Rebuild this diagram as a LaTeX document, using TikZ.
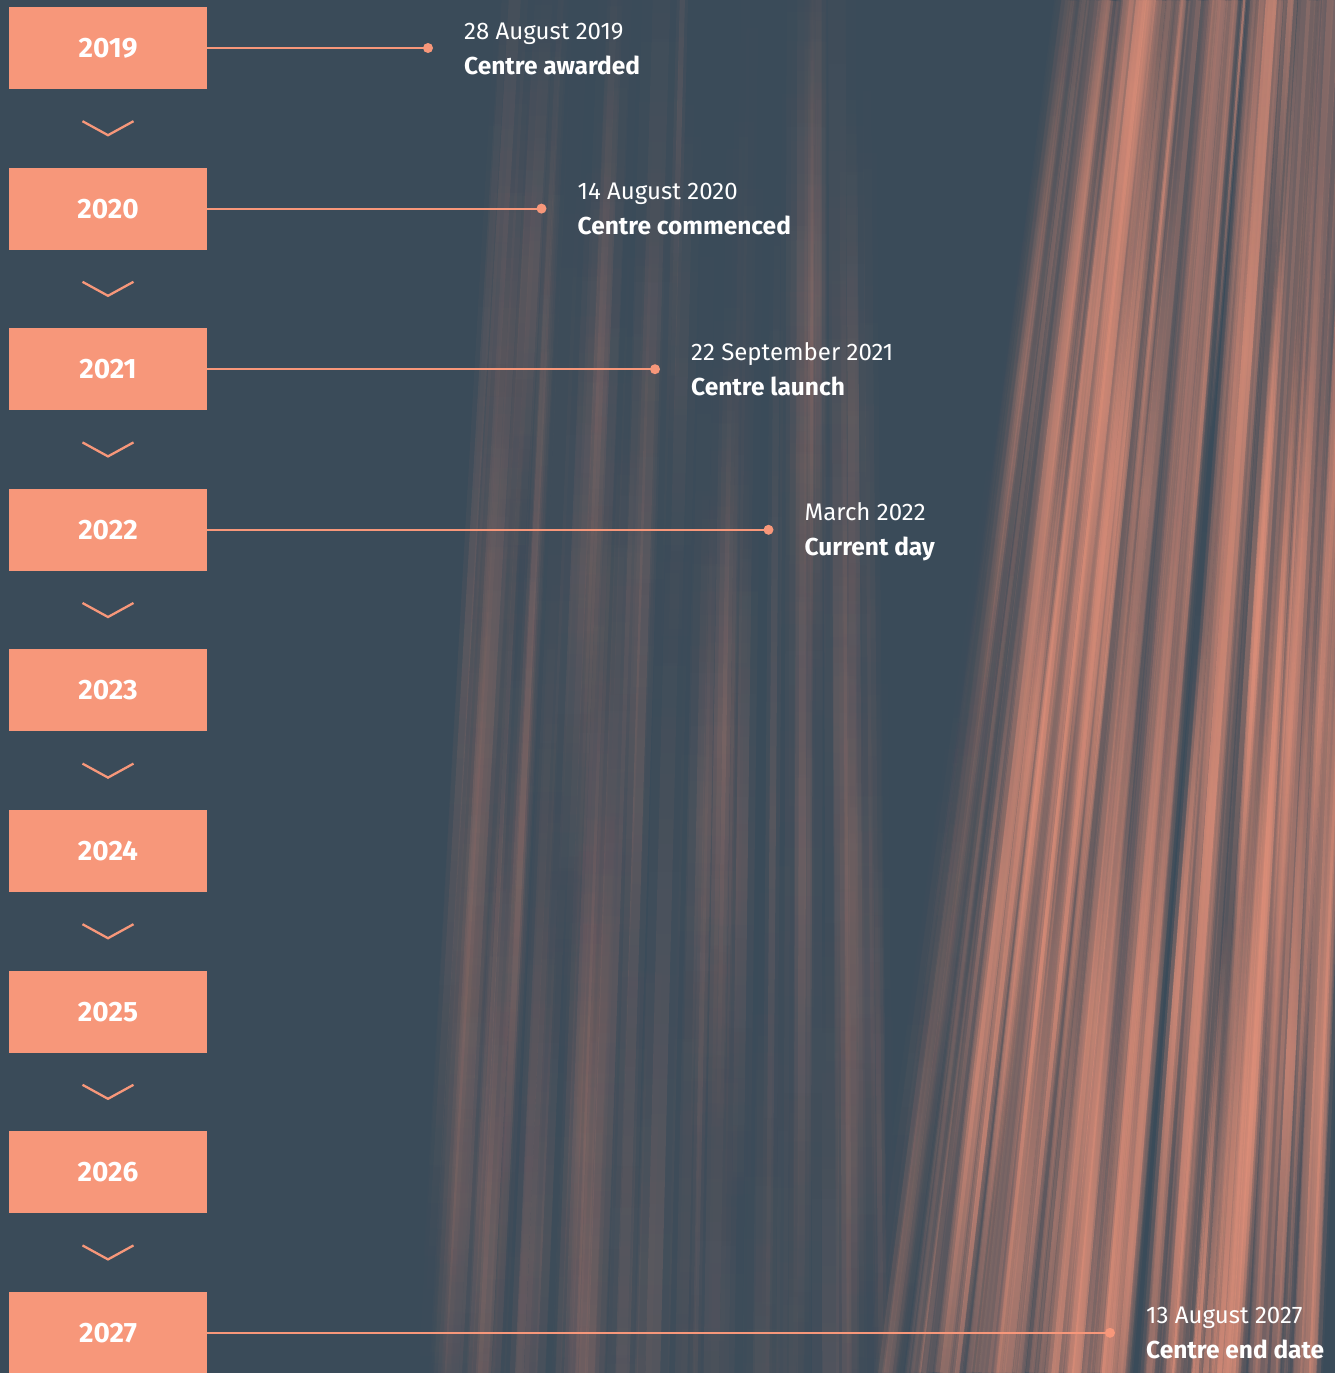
\documentclass[tikz,border=0pt]{standalone}
\usepackage{fontspec}
\setmainfont{Fira Sans}
\usetikzlibrary{calc,fadings}
\definecolor{bg}{HTML}{3A4B59}
\definecolor{accent}{HTML}{F7977A}
\definecolor{streak}{HTML}{E0907A}
\tikzfading[name=vfade, top color=transparent!100, bottom color=transparent!100, middle color=transparent!0]
\begin{document}
\begin{tikzpicture}[x=1pt,y=-1pt,
  yearbox/.style={rectangle, fill=accent, minimum width=198pt, minimum height=82pt, inner sep=0pt,
    text=white, font=\bfseries\fontsize{28}{32}\selectfont},
  dotnode/.style={circle, fill=accent, inner sep=0pt, minimum size=10pt},
  conn/.style={draw=accent, line width=2pt},
  chev/.style={draw=accent, line width=2.3pt, line cap=butt, line join=miter},
  evdate/.style={anchor=base west, inner sep=0pt, text=white, font=\fontsize{24}{28}\selectfont},
  evname/.style={anchor=base west, inner sep=0pt, text=white, font=\bfseries\fontsize{24.5}{28}\selectfont}]
\fill[bg] (0,0) rectangle (1335,1373);
\useasboundingbox (0,0) rectangle (1335,1373);
% decorative streaks
\begin{scope}
\clip (0,0) rectangle (1335,1373);
\pgfmathsetseed{12}
% faint middle band
\foreach \i in {1,...,90}{
  \pgfmathsetmacro\t{500+rnd*380}
  \pgfmathsetmacro\d{80-(\t-500)*0.25}
  \pgfmathsetmacro\ya{-300+rnd*1300}
  \pgfmathsetmacro\len{600+rnd*1000}
  \pgfmathsetmacro\yb{\ya+\len}
  \pgfmathsetmacro\ym{(\ya+\yb)/2}
  \pgfmathsetmacro\xa{\t-\d*(\ya/1373)}
  \pgfmathsetmacro\xb{\t-\d*(\yb/1373)}
  \pgfmathsetmacro\xl{\xa-80}
  \pgfmathsetmacro\xr{\xa+80}
  \pgfmathsetmacro\w{4+rnd*14}
  \pgfmathsetmacro\ww{\w*2.2}
  \pgfmathsetmacro\o{0.025+rnd*0.11}
  \pgfmathsetmacro\oo{\o*0.45}
  \draw[streak, line width=\ww pt, opacity=\oo, path fading=vfade] (\xl,\ym) (\xr,\ym) (\xa,\ya) -- (\xb,\yb);
  \draw[streak, line width=\w pt, opacity=\o, path fading=vfade] (\xl,\ym) (\xr,\ym) (\xa,\ya) -- (\xb,\yb);
}
% strong right band: base
\foreach \i in {1,...,60}{
  \pgfmathsetmacro\t{1050+rnd*320}
  \pgfmathsetmacro\d{185-(\t-1050)*0.4}
  \pgfmathsetmacro\w{3+rnd*10}
  \pgfmathsetmacro\ww{\w*2.2}
  \pgfmathsetmacro\o{(0.04+rnd*0.18)*min(1,(\t-1050)/80)}
  \pgfmathsetmacro\oo{\o*0.45}
  \draw[streak, line width=\ww pt, opacity=\oo] (\t,0) -- (\t-\d,1373);
  \draw[streak, line width=\w pt, opacity=\o] (\t,0) -- (\t-\d,1373);
}
% strong right band: varying streaks
\foreach \i in {1,...,140}{
  \pgfmathsetmacro\t{1050+rnd*320}
  \pgfmathsetmacro\d{185-(\t-1050)*0.4}
  \pgfmathsetmacro\ya{-400+rnd*1400}
  \pgfmathsetmacro\len{600+rnd*900}
  \pgfmathsetmacro\yb{\ya+\len}
  \pgfmathsetmacro\ym{(\ya+\yb)/2}
  \pgfmathsetmacro\xa{\t-\d*(\ya/1373)}
  \pgfmathsetmacro\xb{\t-\d*(\yb/1373)}
  \pgfmathsetmacro\xl{\xa-80}
  \pgfmathsetmacro\xr{\xa+80}
  \pgfmathsetmacro\w{2+rnd*9}
  \pgfmathsetmacro\ww{\w*2.2}
  \pgfmathsetmacro\o{(0.15+rnd*0.5)*min(1,(\t-1050)/80)}
  \pgfmathsetmacro\oo{\o*0.45}
  \draw[streak, line width=\ww pt, opacity=\oo, path fading=vfade] (\xl,\ym) (\xr,\ym) (\xa,\ya) -- (\xb,\yb);
  \draw[streak, line width=\w pt, opacity=\o, path fading=vfade] (\xl,\ym) (\xr,\ym) (\xa,\ya) -- (\xb,\yb);
}
\end{scope}
% year boxes
\node[yearbox] (y2019) at (108,48) {2019};
\node[yearbox] (y2020) at (108,208.6) {2020};
\node[yearbox] (y2021) at (108,369.2) {2021};
\node[yearbox] (y2022) at (108,529.8) {2022};
\node[yearbox] (y2023) at (108,690.4) {2023};
\node[yearbox] (y2024) at (108,851) {2024};
\node[yearbox] (y2025) at (108,1011.6) {2025};
\node[yearbox] (y2026) at (108,1172.2) {2026};
\node[yearbox] (y2027) at (108,1332.8) {2027};
% chevrons
\foreach \y in {2019,...,2026}{
  \draw[chev] ([shift={(-25.5,32)}]y\y.south) -- ([shift={(0,46)}]y\y.south) -- ([shift={(25.5,32)}]y\y.south);
}
% event dots
\node[dotnode] (d2019) at (428,48) {};
\node[dotnode] (d2020) at (541.5,208.6) {};
\node[dotnode] (d2021) at (655,369.2) {};
\node[dotnode] (d2022) at (768.5,529.8) {};
\node[dotnode] (d2027) at (1110,1332.8) {};
\foreach \y in {2019,2020,2021,2022,2027}{
  \draw[conn] (y\y.east) -- (d\y.center);
}
% event texts
\node[evdate] (t2019a) at ([shift={(36,-9)}]d2019.center) {28 August 2019};
\node[evname] (t2019b) at ([shift={(36,26)}]d2019.center) {Centre awarded};
\node[evdate] (t2020a) at ([shift={(36,-9)}]d2020.center) {14 August 2020};
\node[evname] (t2020b) at ([shift={(36,26)}]d2020.center) {Centre commenced};
\node[evdate] (t2021a) at ([shift={(36,-9)}]d2021.center) {22 September 2021};
\node[evname] (t2021b) at ([shift={(36,26)}]d2021.center) {Centre launch};
\node[evdate] (t2022a) at ([shift={(36,-9)}]d2022.center) {March 2022};
\node[evname] (t2022b) at ([shift={(36,26)}]d2022.center) {Current day};
\node[evdate] (t2027a) at ([shift={(36,-9)}]d2027.center) {13 August 2027};
\node[evname] (t2027b) at ([shift={(36,26)}]d2027.center) {Centre end date};
\end{tikzpicture}
\end{document}
